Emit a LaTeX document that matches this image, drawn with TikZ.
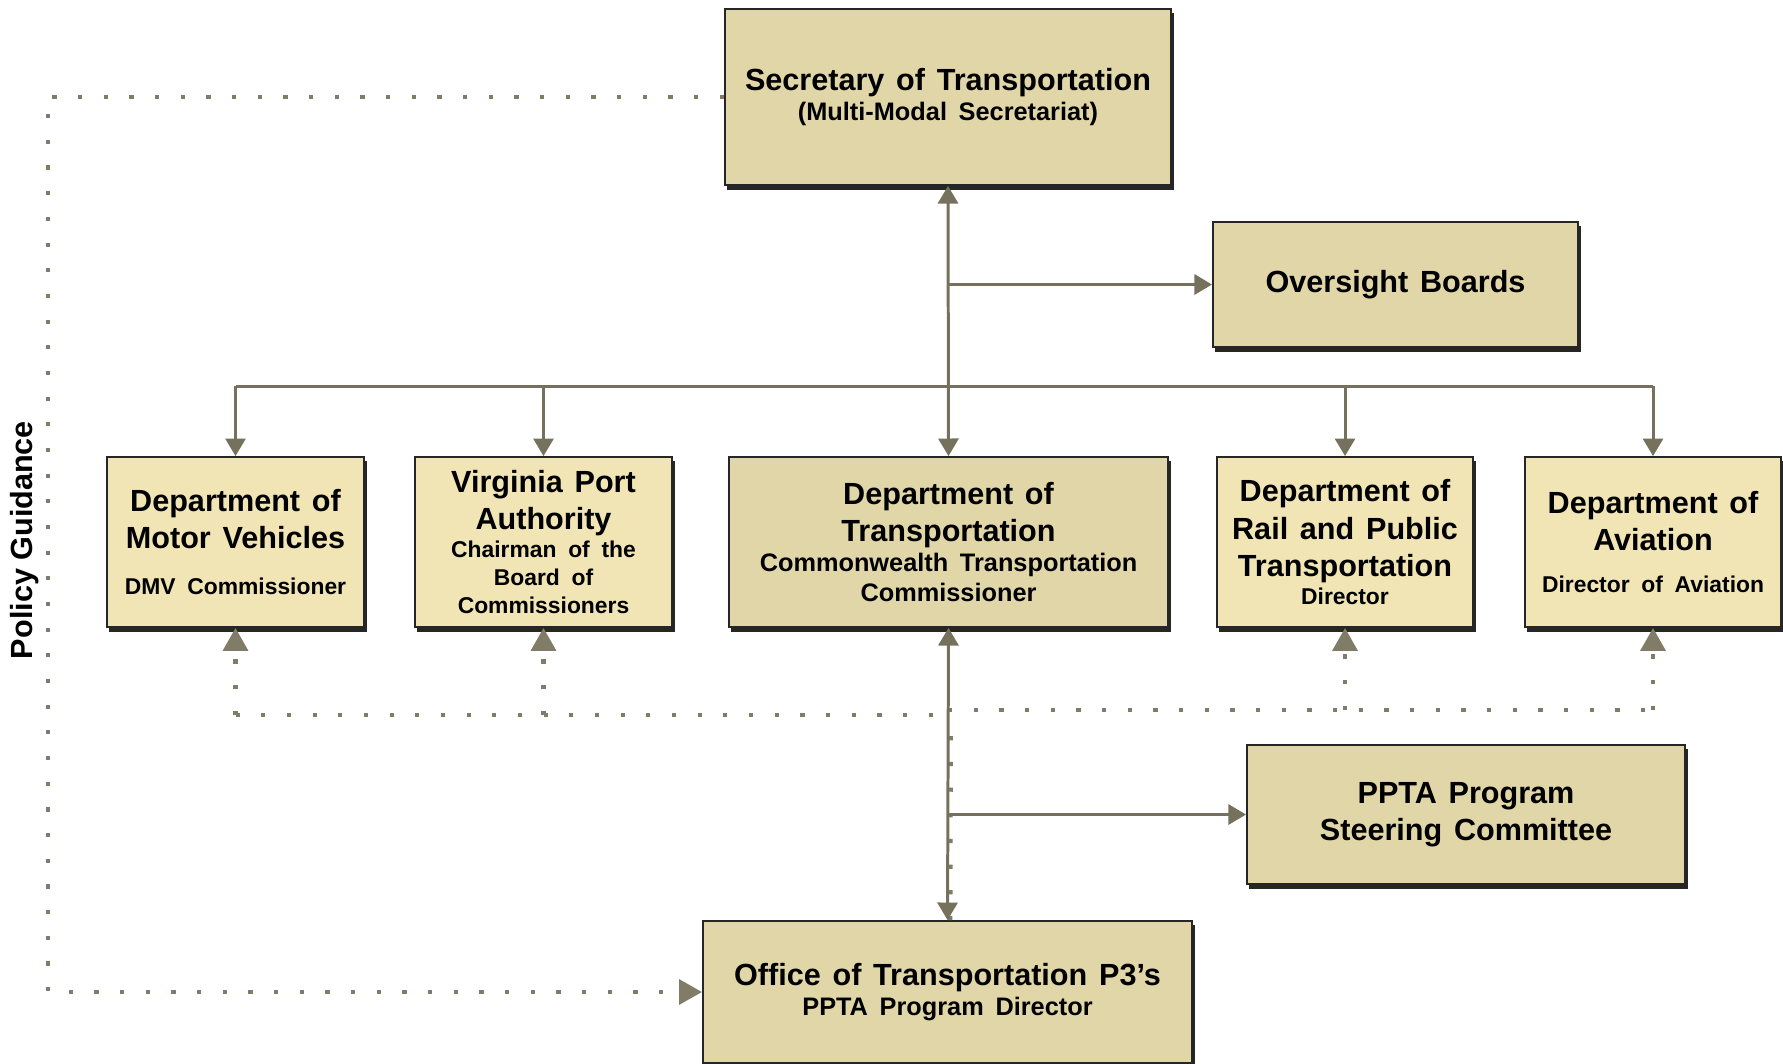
\documentclass[tikz,border=0pt]{standalone}
\usepackage{fontspec}
\setmainfont{Liberation Sans}
\usetikzlibrary{arrows.meta, shadows, calc}
\definecolor{boxdark}{RGB}{225,214,168}
\definecolor{boxlight}{RGB}{241,229,181}
\definecolor{linkc}{RGB}{118,113,92}
\definecolor{guidec}{RGB}{128,124,104}
\setlength{\parindent}{0pt}
\newcommand{\boxhead}{\fontsize{8.7pt}{10.6pt}\selectfont\bfseries}
\newcommand{\boxmid}{\fontsize{7.2pt}{8.6pt}\selectfont\bfseries}
\newcommand{\boxsub}{\fontsize{6.5pt}{7.9pt}\selectfont\bfseries}

\begin{document}
\begin{tikzpicture}[x=0.01cm, y=-0.01cm,
  box/.style={draw=black!85, line width=0.5pt, inner sep=0pt, align=center, text width=#1,
    drop shadow={shadow xshift=0.25mm, shadow yshift=-0.45mm, fill=black!85, opacity=1}},
  link/.style={linkc, line width=0.85pt},
  guide/.style={guidec, line width=1.2pt, dash pattern=on 1.2pt off 6.1pt},
  guidearrow/.style={-{Triangle[width=7pt,length=6.5pt]}},
  >={Triangle[width=5.7pt,length=5pt]}]
\useasboundingbox (0,0) rectangle (1783,1063);

% top of the chart
\node[box=4.46cm, fill=boxdark, minimum height=1.76cm] (sec) at (948,97)
  {{\boxhead Secretary of Transportation\par}{\boxmid (Multi-Modal Secretariat)\par}};
\node[box=3.65cm, fill=boxdark, minimum height=1.25cm] (over) at (1395.5,284.5)
  {{\boxhead Oversight Boards\par}};

% agencies
\node[box=2.57cm, fill=boxlight, minimum height=1.70cm] (dmv) at (235.5,542)
  {{\boxhead Department of\\Motor Vehicles\par}\vspace{5pt}{\boxsub DMV Commissioner\par}};
\node[box=2.57cm, fill=boxlight, minimum height=1.70cm] (vpa) at (543.5,542)
  {{\boxhead Virginia Port\\Authority\par}{\boxsub Chairman of the\\Board of\\Commissioners\par}};
\node[box=4.39cm, fill=boxdark, minimum height=1.70cm] (dot) at (948.5,542)
  {{\boxhead Department of\\Transportation\par}{\boxmid Commonwealth Transportation\\Commissioner\par}};
\node[box=2.56cm, fill=boxlight, minimum height=1.70cm] (drpt) at (1345,542)
  {{\boxhead Department of\\Rail and Public\\Transportation\par}{\boxsub Director\par}};
\node[box=2.56cm, fill=boxlight, minimum height=1.70cm] (doav) at (1653,542)
  {{\boxhead Department of\\Aviation\par}\vspace{4pt}{\boxsub Director of Aviation\par}};

% PPTA office
\node[box=4.38cm, fill=boxdark, minimum height=1.39cm] (ppta) at (1466,814.5)
  {{\boxhead PPTA Program\\Steering Committee\par}};
\node[box=4.89cm, fill=boxdark, minimum height=1.42cm] (p3) at (947.5,992)
  {{\boxhead Office of Transportation P3's\par}{\boxmid PPTA Program Director\par}};

\node[rotate=90, font=\boxhead] (pglabel) at (25,540) {Policy Guidance};

% dotted guidance
\coordinate (pgl) at (48,992);
\coordinate (fbl) at (948,715);
\coordinate (fbr) at (948,710);
\draw[guide, guidearrow] (sec.west) -| (pgl) -- (p3.west);
\draw[guide] ([xshift=0.8pt]p3.north) -- ([xshift=0.8pt]fbl);
\draw[guide] (dmv.south |- fbl) -- (fbl);
\draw[guide] (fbr) -- (doav.south |- fbr);
\foreach \n in {dmv,vpa}
  \draw[guide, guidearrow] (\n.south |- fbl) -- (\n.south);
\foreach \n in {drpt,doav}
  \draw[guide, guidearrow] (\n.south |- fbr) -- (\n.south);

% reporting lines
\coordinate (bus) at (948,386);
\draw[link, <->] (sec.south) -- (dot.north);
\draw[link, ->] (sec.south |- over.west) -- (over.west);
\draw[link] (dmv.north |- bus) -- (doav.north |- bus);
\foreach \n in {dmv,vpa,drpt,doav}
  \draw[link, ->] (\n.north |- bus) -- (\n.north);
\draw[link, <->] (dot.south) -- (p3.north);
\draw[link, ->] (dot.south |- ppta.west) -- (ppta.west);
\end{tikzpicture}
\end{document}
